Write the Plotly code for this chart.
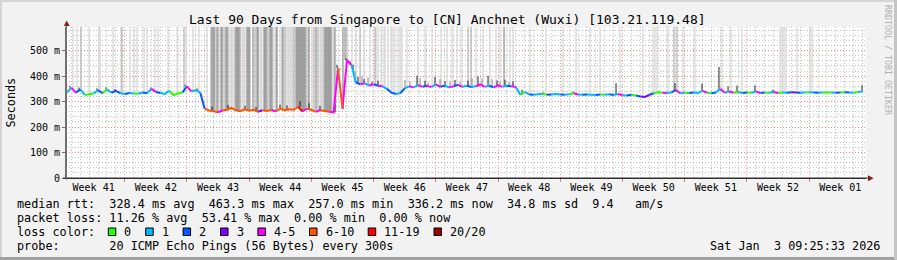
import numpy as np
import pandas as pd
import plotly.graph_objects as go

# ---------------- time frame ----------------
START = pd.Timestamp("2025-10-05 09:25:33")
END = pd.Timestamp("2026-01-03 09:25:33")
SAMPLE0 = pd.Timestamp("2025-10-05 12:00:00")
STEP = pd.Timedelta(hours=12)

# ---------------- median rtt (ms), one value per 12 h ----------------
median_ms = [
    336, 355, 335, 348, 326, 330, 332, 345, 333, 348, 335, 342, 333, 330, 334, 332,
    331, 336, 333, 350, 338, 334, 330, 342, 326, 332, 336, 360, 340, 345, 335,
    272, 265, 262, 258, 265, 268, 275, 266, 262, 270, 264, 268, 260, 266, 263, 267,
    262, 272, 266, 270, 268, 280, 262, 272, 268, 260, 266, 263, 260, 258,
    430, 272, 463, 445, 375, 368, 372, 363, 368, 362, 360, 350, 335, 330, 333, 352,
    360, 356, 365, 358, 362, 357, 368, 358, 362, 356, 360, 366, 358, 362, 357, 360,
    368, 358, 362, 356, 364, 358, 362, 360, 357,
    327, 338, 328, 327, 329, 331, 327, 328, 330, 328, 327, 329, 333, 328, 327, 328,
    327, 326, 328, 327, 329, 326, 330, 325, 324, 327, 324, 320, 318, 326, 333, 337,
    335, 334, 336, 345, 333, 335, 334, 336, 334, 342, 335, 333, 336, 350, 335, 340,
    335, 338, 334, 336, 335, 340, 334, 336, 335, 338, 334, 336, 335, 337, 336, 335,
    336, 337, 336, 335, 336, 337, 336, 335, 336, 337, 336, 335, 338, 340,
]

# loss bucket index per sample (0:"0" 1:"1" 2:"2" 3:"3" 4:"4-5" 5:"6-10" 6:"11-19" 7:"20/20")
loss_cat = [
    1, 4, 2, 1, 0, 0, 1, 2, 0, 1, 2, 2, 1, 2, 1, 0, 1, 2, 1, 4, 2, 1, 1, 0, 0, 0, 2, 4, 1, 1, 2,
    5, 5, 5, 4, 5, 5, 5, 5, 5, 5, 5, 5, 3, 5, 5, 4, 5, 5, 5, 5, 5, 6, 4, 5, 5, 4, 5, 5, 4, 4,
    5, 4, 4, 1, 2, 4, 1, 4, 2, 4, 1, 2, 2, 1, 2, 1, 4, 1, 4, 2, 4, 1, 4, 2, 1, 4, 2, 4, 1, 2,
    1, 4, 4, 1, 2, 4, 4, 1, 2, 4, 1,
    0, 1, 2, 1, 1, 0, 2, 1, 1, 2, 1, 0, 4, 1, 2, 1, 1, 2, 0, 1, 2, 1, 4, 1, 2, 0, 2, 3, 3, 2,
    0, 0, 4, 1, 2, 4, 1, 0, 2, 1, 1, 4, 0, 2, 1, 4, 1, 4, 0, 1, 2, 0, 1, 4, 2, 0, 1, 4, 0, 1,
    2, 3, 2, 1, 0, 1, 2, 1, 0, 0, 1, 2, 0, 2, 1, 0, 1, 4,
]

loss_labels = ["0", "1", "2", "3", "4-5", "6-10", "11-19", "20/20"]
loss_colors = ["#26ff00", "#00b8ff", "#0059ff", "#7e00ff", "#ff00ff", "#ff5500", "#ff0000", "#a10000"]

# ---------------- smoke: tall outliers (days after START), reaching above the chart top ----------------
smoke_light_days = [
    0.79, 1.24, 2.59, 3.71, 3.83, 5.29, 6.19, 7.20, 7.65, 7.99, 8.78, 9.11, 10.01, 10.35,
    11.48, 12.49, 13.50, 14.29, 14.96,
    15.86, 17.21, 18.45, 18.56, 18.68, 18.79, 19.80, 19.91, 20.03, 20.14, 21.83, 21.94, 22.05,
    22.61, 23.40, 24.08, 24.86, 24.98, 25.09, 25.20, 25.31, 25.43, 25.54, 27.68, 28.58, 28.69,
    28.80, 28.91, 29.93, 30.04, 30.15,
    32.18, 32.63, 33.53, 34.20, 34.88, 35.10, 35.44, 35.78, 35.89, 36.23, 36.56, 36.79, 37.01,
    37.35, 37.58, 37.80, 38.36, 39.60, 40.39, 41.18, 42.19, 42.86, 43.43, 43.99, 44.44, 46.13,
    46.91, 47.70, 48.38, 48.83, 49.95, 50.29,
    52.20, 54.00, 55.91, 57.38, 58.95, 60.08, 62.33, 64.91, 66.04, 66.26, 66.49, 67.73,
    69.41, 70.76, 73.80, 74.81, 76.05, 80.33, 80.55, 80.78, 81.00, 82.24, 83.70, 83.93,
]
smoke_mid_days = [
    1.69, 6.30, 13.28,
    16.31, 16.54, 16.76, 17.10, 17.78, 18.23, 19.01, 19.58, 20.70, 21.26, 22.73, 23.63, 24.30,
    24.64, 25.65, 27.00, 27.23, 27.90, 28.35, 29.03,
    31.61, 33.08, 34.76, 45.23, 45.56, 68.40, 68.74,
]
smoke_dark_days = [
    16.43, 16.65, 16.99, 17.44, 17.55, 18.00, 18.11, 19.13, 19.24, 19.35, 19.46, 20.36, 20.48,
    20.59, 21.04, 21.49, 21.60, 22.28, 22.39, 22.50, 22.95, 23.06, 23.18, 23.74, 24.41, 25.88,
    25.99, 26.10, 26.21, 26.33, 26.44, 26.55, 26.66, 26.78, 26.89, 27.34, 28.13, 29.14, 29.25,
    29.36, 29.48, 29.59, 29.70, 29.81, 30.26,
    31.16, 31.39, 49.28,
]
SMOKE_TOP_MS = 800

# moderate smoke above the median (days after START, top ms)
cloud_days = [32.51, 33.30, 33.98, 38.14, 38.70, 39.83, 40.73, 42.08, 43.20, 44.33, 45.68,
              46.80, 47.93, 48.83, 49.84]
cloud_top = [420, 400, 395, 385, 378, 392, 375, 388, 380, 376, 392, 390, 388, 378, 377]

# dense smoke spikes (days after START, top ms)
spike_days = [0.45, 1.46, 3.49, 4.50, 5.51, 9.56, 13.39, 14.74,
              16.43, 18.23, 20.14, 21.38, 24.08, 24.86, 26.33, 27.34, 28.58, 30.26,
              30.49, 30.83, 31.50, 31.95, 32.29, 32.85, 33.53, 34.43, 35.10,
              39.49, 40.39, 41.51, 42.64, 43.76, 45.23, 46.35, 47.48, 48.49, 49.39, 50.29,
              51.30, 53.66, 57.04, 61.88, 68.51, 71.55, 73.46, 74.48, 75.49, 77.51, 79.54, 89.55]
spike_top = [362, 355, 352, 356, 350, 355, 366, 352,
             280, 287, 284, 279, 288, 285, 302, 294, 283, 292,
             445, 425, 470, 458, 425, 397, 388, 378, 382,
             402, 382, 397, 380, 385, 382, 399, 401, 383, 386, 380,
             347, 336, 339, 372, 373, 371, 436, 360, 363, 363, 347, 364]

# ---------------- axis labels ----------------
week_labels = ["Week 41", "Week 42", "Week 43", "Week 44", "Week 45", "Week 46", "Week 47",
               "Week 48", "Week 49", "Week 50", "Week 51", "Week 52", "Week 01"]
week_label_times = pd.date_range("2025-10-08 12:00", periods=len(week_labels), freq="7D")
y_tick_vals = [0, 100, 200, 300, 400, 500]
y_tick_text = ["0", "100 m", "200 m", "300 m", "400 m", "500 m"]

title_text = "Last 90 Days from Singapore to [CN] Anchnet (Wuxi) [103.21.119.48]"
legend_lines = [
    "median rtt:  328.4 ms avg  463.3 ms max  257.0 ms min  336.2 ms now  34.8 ms sd  9.4   am/s",
    "packet loss: 11.26 % avg  53.41 % max  0.00 % min  0.00 % now",
    "loss color:",
    "probe:       20 ICMP Echo Pings (56 Bytes) every 300s",
]
stamp_text = "Sat Jan  3 09:25:33 2026"

# ---------------- helpers ----------------
sample_t = [SAMPLE0 + STEP * i for i in range(len(median_ms))]
MONO = "DejaVu Sans Mono"
PLOT_L, PLOT_T, PLOT_W, PLOT_H = 66, 27, 800, 151
CHAR_W = 7.1


def px(xp):
    return (xp - PLOT_L) / PLOT_W


def py(yp):
    return (PLOT_T + PLOT_H - yp) / PLOT_H


def to_time(d):
    return START + pd.Timedelta(days=d)


def nearest_median(d):
    i = int(round((to_time(d) - SAMPLE0) / STEP))
    i = max(0, min(len(median_ms) - 1, i))
    return median_ms[i]


def vlines(days, tops):
    xs, ys = [], []
    for d, tp in zip(days, tops):
        t = to_time(d)
        xs += [t, t, None]
        ys += [nearest_median(d), tp, None]
    return xs, ys


fig = go.Figure()

for days, col in [(smoke_light_days, "#d4d4d4"), (smoke_mid_days, "#b0b0b0"), (smoke_dark_days, "#8e8e8e")]:
    xs, ys = vlines(days, [SMOKE_TOP_MS] * len(days))
    fig.add_trace(go.Scatter(x=xs, y=ys, mode="lines", line=dict(color=col, width=1.2),
                             hoverinfo="skip"))

xs, ys = vlines(cloud_days, cloud_top)
fig.add_trace(go.Scatter(x=xs, y=ys, mode="lines", line=dict(color="#8a8a8a", width=1), hoverinfo="skip"))
xs, ys = vlines(spike_days, spike_top)
fig.add_trace(go.Scatter(x=xs, y=ys, mode="lines", line=dict(color="#202020", width=1), hoverinfo="skip"))

# median line coloured by loss bucket
for k, col in enumerate(loss_colors):
    xs, ys = [], []
    i = 0
    n = len(median_ms)
    while i < n - 1:
        if loss_cat[i] == k:
            j = i
            while j < n - 1 and loss_cat[j] == k:
                j += 1
            xs += sample_t[i:j + 1] + [None]
            ys += median_ms[i:j + 1] + [None]
            i = j
        else:
            i += 1
    if xs:
        fig.add_trace(go.Scatter(x=xs, y=ys, mode="lines", line=dict(color=col, width=2),
                                 hoverinfo="skip"))

# invisible trace carrying the grid axis
fig.add_trace(go.Scatter(x=[START], y=[0], xaxis="x2", mode="markers",
                         marker=dict(opacity=0), hoverinfo="skip"))

RED_GRID = "rgba(235,120,120,0.75)"
GRAY_GRID = "rgba(150,150,150,0.55)"
DASH = "1px,2px"

fig.update_layout(
    width=897, height=260,
    margin=dict(l=PLOT_L, r=897 - PLOT_L - PLOT_W, t=PLOT_T, b=260 - PLOT_T - PLOT_H, pad=0),
    paper_bgcolor="#f2f2f2", plot_bgcolor="#ffffff",
    showlegend=False,
    font=dict(family=MONO, size=10, color="#000000"),
    xaxis=dict(type="date", range=[START, END], tickmode="array", tickvals=week_label_times,
               ticktext=week_labels, showgrid=False, zeroline=False, ticks="",
               showline=True, linecolor="#303030", linewidth=1,
               tickfont=dict(family=MONO, size=10, color="#000")),
    xaxis2=dict(type="date", overlaying="x", range=[START, END], tickmode="linear",
                tick0="2025-10-12", dtick=7 * 86400000, showticklabels=False,
                showgrid=True, gridcolor=RED_GRID, griddash=DASH, gridwidth=1,
                ticks="outside", ticklen=3, tickcolor="#e08080", zeroline=False,
                minor=dict(tick0="2025-10-12", dtick=86400000, showgrid=True,
                           gridcolor=GRAY_GRID, griddash=DASH, gridwidth=1)),
    yaxis=dict(range=[0, 593], tickmode="array", tickvals=y_tick_vals, ticktext=y_tick_text,
               showgrid=True, gridcolor=RED_GRID, griddash=DASH, gridwidth=1, zeroline=False,
               showline=True, linecolor="#707070", linewidth=1,
               ticks="outside", ticklen=3, tickcolor="#707070",
               tickfont=dict(family=MONO, size=10, color="#000"),
               minor=dict(dtick=20, showgrid=True, gridcolor=GRAY_GRID, griddash=DASH, gridwidth=1)),
)

shapes = []
# frame of the image
shapes.append(dict(type="rect", xref="paper", yref="paper", x0=px(0), x1=px(897), y0=py(0), y1=py(2),
                   fillcolor="#d4d4d4", line=dict(width=0), layer="below"))
shapes.append(dict(type="rect", xref="paper", yref="paper", x0=px(0), x1=px(2), y0=py(0), y1=py(260),
                   fillcolor="#d4d4d4", line=dict(width=0), layer="below"))
shapes.append(dict(type="rect", xref="paper", yref="paper", x0=px(0), x1=px(897), y0=py(257), y1=py(260),
                   fillcolor="#a0a0a0", line=dict(width=0), layer="below"))
shapes.append(dict(type="rect", xref="paper", yref="paper", x0=px(894), x1=px(897), y0=py(0), y1=py(260),
                   fillcolor="#c4c4c4", line=dict(width=0), layer="below"))
# axis extension + arrows
shapes.append(dict(type="line", xref="paper", yref="paper", x0=px(63), x1=px(869), y0=py(178), y1=py(178),
                   line=dict(color="#303030", width=1)))
shapes.append(dict(type="line", xref="paper", yref="paper", x0=px(66.5), x1=px(66.5), y0=py(180), y1=py(24),
                   line=dict(color="#707070", width=1)))
shapes.append(dict(type="path", xref="paper", yref="paper",
                   path=f"M {px(63.8)} {py(26)} L {px(69.6)} {py(26)} L {px(66.7)} {py(20.5)} Z",
                   fillcolor="#8b1a1a", line=dict(width=0)))
shapes.append(dict(type="path", xref="paper", yref="paper",
                   path=f"M {px(868)} {py(175.3)} L {px(868)} {py(181.3)} L {px(873.5)} {py(178.3)} Z",
                   fillcolor="#8b1a1a", line=dict(width=0)))

fig.update_layout(shapes=shapes)

# legend boxes: box, one blank, label, two blanks, next box ...
ann = []
bx = 108.3
for col, lab in zip(loss_colors, loss_labels):
    fig.add_shape(type="rect", xref="paper", yref="paper", x0=px(bx), x1=px(bx + 7.5),
                  y0=py(235.5), y1=py(228), fillcolor=col, line=dict(color="#000000", width=1))
    ann.append(dict(text=lab, x=px(bx + 15), y=py(232), xref="paper", yref="paper",
                    xanchor="left", yanchor="middle", showarrow=False, borderpad=0,
                    font=dict(family=MONO, size=11.8, color="#000")))
    bx = bx + 15 + CHAR_W * len(lab) + 15.3

nb = lambda s: s.replace(" ", "\u00a0")
ann.append(dict(text=nb(title_text), x=px(447), y=py(19.5), xref="paper", yref="paper",
                xanchor="center", yanchor="middle", showarrow=False,
                font=dict(family=MONO, size=13, color="#000")))
ann.append(dict(text="Seconds", x=px(10.5), y=py(102), xref="paper", yref="paper",
                xanchor="center", yanchor="middle", showarrow=False, textangle=-90,
                font=dict(family=MONO, size=11.8, color="#000")))
ann.append(dict(text=nb("RRDTOOL / TOBI OETIKER"), x=px(888), y=py(60), xref="paper", yref="paper",
                xanchor="center", yanchor="middle", showarrow=False, textangle=90,
                font=dict(family=MONO, size=8.3, color="#b0b0b0")))
for k, line in enumerate(legend_lines):
    ann.append(dict(text=nb(line), x=px(16), y=py(204 + 14 * k), xref="paper", yref="paper",
                    xanchor="left", yanchor="middle", showarrow=False, borderpad=0,
                    font=dict(family=MONO, size=11.8, color="#000")))
ann.append(dict(text=nb(stamp_text), x=px(880.5), y=py(246), xref="paper", yref="paper",
                xanchor="right", yanchor="middle", showarrow=False, borderpad=0,
                font=dict(family=MONO, size=11.8, color="#000")))
fig.update_layout(annotations=ann)

fig.write_html("out.html")
